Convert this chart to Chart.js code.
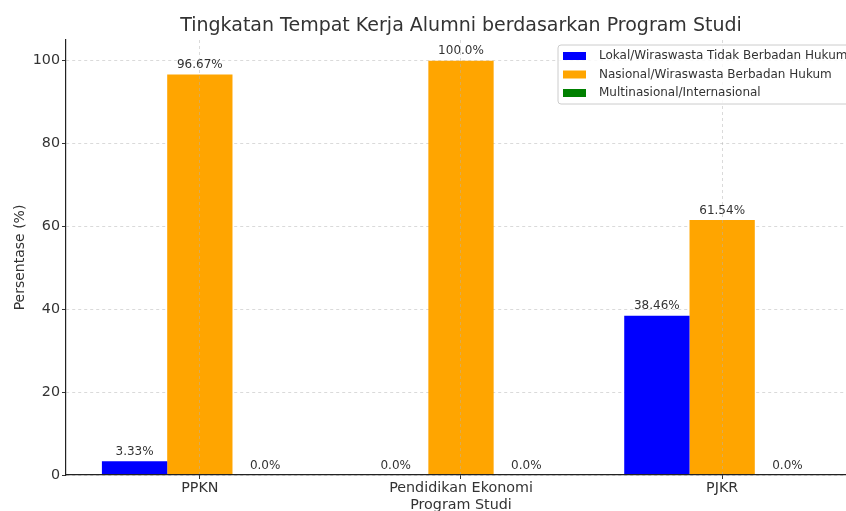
<!DOCTYPE html>
<html>
<head>
<meta charset="utf-8">
<script src="https://cdn.jsdelivr.net/npm/chart.js@4.4.1/dist/chart.umd.min.js"></script>
<style>
  html, body { margin: 0; padding: 0; background: #ffffff; overflow: hidden; }
  #wrap { position: absolute; left: 0; top: 0; width: 860px; height: 520px; }
</style>
</head>
<body>
<div id="wrap"><canvas id="c" width="860" height="520"></canvas></div>
<script>
// ---- data ----
const chartTitle = 'Tingkatan Tempat Kerja Alumni berdasarkan Program Studi';
const categories = ['PPKN', 'Pendidikan Ekonomi', 'PJKR'];
const seriesNames = [
  'Lokal/Wiraswasta Tidak Berbadan Hukum',
  'Nasional/Wiraswasta Berbadan Hukum',
  'Multinasional/Internasional'
];
const lokal = [3.33, 0, 38.46];
const nasional = [96.67, 100, 61.54];
const multinasional = [0, 0, 0];
const yTicks = [0, 20, 40, 60, 80, 100];
const xAxisTitle = 'Program Studi';
const yAxisTitle = 'Persentase (%)';

const colors = ['#0000ff', '#ffa500', '#008000'];
const FONT = "'DejaVu Sans', sans-serif";
const TEXT = '#333333';
const GRID = 'rgba(176,176,176,0.6)';

function fmt(v) {
  return (Number.isInteger(v) ? v.toFixed(1) : String(v)) + '%';
}
function points(values) {
  return values.map((v, i) => ({ x: i, y: v }));
}

const titlePlugin = {
  id: 'mplTitle',
  afterDraw(chart) {
    const ctx = chart.ctx, a = chart.chartArea;
    ctx.save();
    ctx.font = '19px ' + FONT;
    ctx.fillStyle = TEXT;
    ctx.textAlign = 'center';
    ctx.textBaseline = 'middle';
    ctx.fillText(chartTitle, (a.left + a.right) / 2, 26);
    ctx.restore();
  }
};

const valueLabels = {
  id: 'valueLabels',
  afterDatasetsDraw(chart) {
    const ctx = chart.ctx;
    ctx.save();
    ctx.font = '12px ' + FONT;
    ctx.fillStyle = TEXT;
    ctx.textAlign = 'center';
    ctx.textBaseline = 'alphabetic';
    chart.data.datasets.forEach((ds, i) => {
      chart.getDatasetMeta(i).data.forEach((bar, j) => {
        ctx.fillText(fmt(ds.data[j].y), bar.x, bar.y - 6.5);
      });
    });
    ctx.restore();
  }
};

const legendBox = {
  id: 'legendBox',
  afterDraw(chart) {
    const ctx = chart.ctx;
    const x0 = 558, y0 = 45, w = 320, h = 59, r = 3;
    ctx.save();
    ctx.beginPath();
    ctx.moveTo(x0 + r, y0);
    ctx.lineTo(x0 + w - r, y0);
    ctx.arcTo(x0 + w, y0, x0 + w, y0 + r, r);
    ctx.lineTo(x0 + w, y0 + h - r);
    ctx.arcTo(x0 + w, y0 + h, x0 + w - r, y0 + h, r);
    ctx.lineTo(x0 + r, y0 + h);
    ctx.arcTo(x0, y0 + h, x0, y0 + h - r, r);
    ctx.lineTo(x0, y0 + r);
    ctx.arcTo(x0, y0, x0 + r, y0, r);
    ctx.closePath();
    ctx.fillStyle = 'rgba(255,255,255,0.85)';
    ctx.fill();
    ctx.strokeStyle = '#cccccc';
    ctx.lineWidth = 1;
    ctx.stroke();
    ctx.font = '12px ' + FONT;
    ctx.textAlign = 'left';
    ctx.textBaseline = 'middle';
    chart.data.datasets.forEach((ds, i) => {
      const cy = 56 + i * 18.5;
      ctx.fillStyle = ds.backgroundColor;
      ctx.fillRect(563, cy - 4, 23, 8);
      ctx.fillStyle = TEXT;
      ctx.fillText(ds.label, 599, cy);
    });
    ctx.restore();
  }
};

new Chart(document.getElementById('c'), {
  type: 'bar',
  data: {
    datasets: [
      { label: seriesNames[0], data: points(lokal), backgroundColor: colors[0] },
      { label: seriesNames[1], data: points(nasional), backgroundColor: colors[1] },
      { label: seriesNames[2], data: points(multinasional), backgroundColor: colors[2] }
    ]
  },
  options: {
    responsive: false,
    animation: false,
    devicePixelRatio: 1,
    layout: { padding: { left: 0, right: 4, top: 40, bottom: 0 } },
    datasets: { bar: { barPercentage: 1, categoryPercentage: 0.75, borderWidth: 0 } },
    plugins: {
      legend: { display: false },
      title: { display: false },
      tooltip: { enabled: false }
    },
    scales: {
      x: {
        type: 'linear',
        offset: false,
        min: -0.5125,
        max: categories.length - 1 + 0.5125,
        afterBuildTicks(s) { s.ticks = categories.map((c, i) => ({ value: i })); },
        grid: {
          offset: false,
          z: 1,
          color: GRID,
          lineWidth: 0.8,
          drawTicks: true,
          tickLength: 4,
          tickColor: '#333333',
          tickWidth: 1,
          tickBorderDash: []
        },
        border: { display: true, color: '#222222', width: 1.2, dash: [3, 3], z: 1 },
        ticks: {
          color: TEXT, font: { family: FONT, size: 14.3 }, padding: 1, maxRotation: 0, autoSkip: false,
          callback: (v) => categories[v]
        },
        title: { display: true, text: xAxisTitle, color: TEXT, font: { family: FONT, size: 14.3 }, padding: { top: 0, bottom: 6 } },
        afterFit(s) { s.height = 45; }
      },
      y: {
        min: 0,
        max: 105,
        afterBuildTicks(s) { s.ticks = yTicks.map(v => ({ value: v })); },
        grid: {
          color: GRID,
          lineWidth: 0.8,
          drawTicks: true,
          tickLength: 4,
          tickColor: '#333333',
          tickWidth: 1,
          tickBorderDash: []
        },
        border: { display: true, color: '#222222', width: 1.2, dash: [3, 3] },
        ticks: { color: TEXT, font: { family: FONT, size: 14.3 }, padding: 2, includeBounds: false },
        title: { display: true, text: yAxisTitle, color: TEXT, font: { family: FONT, size: 14 }, padding: { top: 12, bottom: 0 } },
        afterFit(s) { s.width = 66; }
      }
    }
  },
  plugins: [valueLabels, titlePlugin, legendBox]
});
</script>
</body>
</html>
